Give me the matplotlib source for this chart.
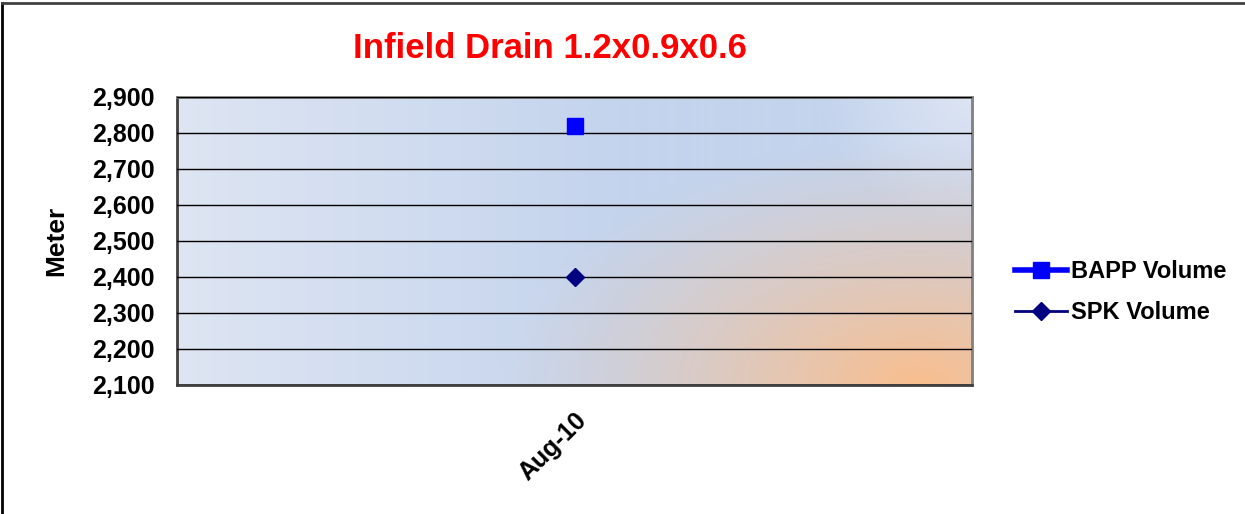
import matplotlib
matplotlib.use("Agg")
import matplotlib.pyplot as plt
import numpy as np
from matplotlib.lines import Line2D
from matplotlib.ticker import FuncFormatter

plt.rcParams["font.family"] = ["Liberation Sans", "DejaVu Sans"]
plt.rcParams["font.weight"] = "bold"

# data
categories = ["Aug-10"]
bapp_volume = [2820]
spk_volume = [2400]
y_ticks = [2100, 2200, 2300, 2400, 2500, 2600, 2700, 2800, 2900]

fig = plt.figure(figsize=(12.45, 5.14), dpi=100)
ax = fig.add_axes([0.1422, 0.2510, 0.6386, 0.5603])

# background gradient (light blue -> blue -> orange toward bottom right)
h, w = 288, 795
yy, xx = np.mgrid[0:h, 0:w]
yy = h - 1 - yy  # row 0 is top, yy measured up from the bottom
light = np.array([222, 229, 243]) / 255
blue = np.array([196, 212, 237]) / 255
orange = np.array([249, 190, 142]) / 255
t = np.clip(xx / (0.55 * w), 0, 1)[..., None]
img = light * (1 - t) + blue * t
# lighten near the top-right corner
dtr = np.hypot(xx - w, (yy - h) * 1.2)
k = np.clip(1 - dtr / 150, 0, 1)[..., None]
img = img * (1 - k) + light * k
d = np.hypot((xx - 0.93 * w) * 0.9, yy * 1.55)
a = np.clip(1 - d / 380, 0, 1) ** 1.2
a = a[..., None]
img = img * (1 - a) + orange * a
ax.imshow(img, extent=[0, 1, 0, 1], transform=ax.transAxes,
          aspect="auto", zorder=0, origin="upper")

x = np.arange(len(categories))
ax.plot(x, bapp_volume, color="#0000FF", lw=4, marker="s", markersize=11,
        zorder=3)
ax.plot(x, spk_volume, color="#000080", lw=2, marker="D", markersize=9,
        zorder=3)

ax.set_xlim(-0.5, 0.5)
ax.set_ylim(2100, 2900)
ax.set_yticks(y_ticks)
ax.yaxis.set_major_formatter(FuncFormatter(lambda v, p: f"{int(v):,}"))
ax.set_xticks(x)
ax.set_xticklabels(categories, rotation=45, ha="right", rotation_mode="anchor")
ax.tick_params(axis="both", length=0, labelsize=18)
ax.tick_params(axis="y", pad=16)
ax.tick_params(axis="x", pad=17)
ax.grid(axis="y", color="black", lw=1)
ax.set_axisbelow(False)
for name, sp in ax.spines.items():
    sp.set_color("#808080")
    sp.set_linewidth(2)
ax.spines["left"].set_color("#404040")
ax.spines["bottom"].set_color("#404040")

ax.set_ylabel("Meter", fontsize=19, fontweight="bold", labelpad=17)
fig.text(0.4418, 0.905, "Infield Drain 1.2x0.9x0.6", color="#FF0000",
         fontsize=25, fontweight="bold", ha="center", va="center")

handles = [
    Line2D([], [], color="#0000FF", lw=4, marker="s", markersize=11),
    Line2D([], [], color="#000080", lw=2, marker="D", markersize=9),
]
fig.legend(handles, ["BAPP Volume", "SPK Volume"], loc="center left",
           bbox_to_anchor=(0.798, 0.432), frameon=False, fontsize=17,
           handlelength=2.2, handletextpad=0.2, labelspacing=0.75)

# figure border (left and top visible)
fig.add_artist(Line2D([0.002, 0.002], [0, 0.994], color="black", lw=2,
                      transform=fig.transFigure))
fig.add_artist(Line2D([0.002, 1], [0.994, 0.994], color="#404040", lw=2,
                      transform=fig.transFigure))

fig.savefig("out.png", dpi=100)
